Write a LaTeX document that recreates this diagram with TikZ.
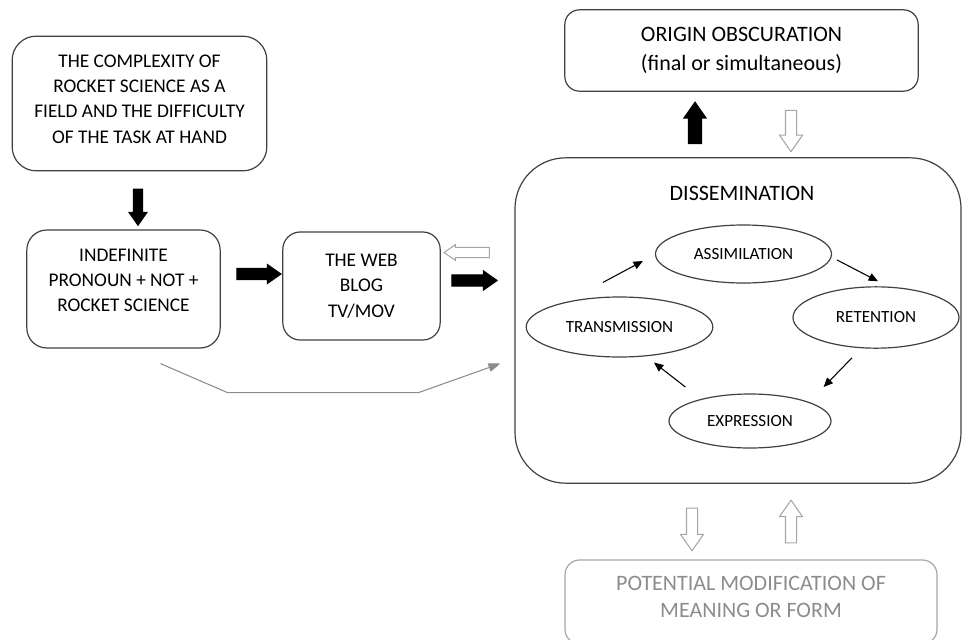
\documentclass[tikz,border=0pt]{standalone}
\usepackage{fontspec}
\setmainfont{Carlito}
\usepackage{tikz}
\usetikzlibrary{arrows.meta,shapes.geometric,shapes.arrows,positioning}

\definecolor{edgegrey}{HTML}{404040}
\definecolor{softgrey}{HTML}{A6A6A6}
\definecolor{labelgrey}{HTML}{8C8C8C}

\begin{document}
\begin{tikzpicture}[x=0.75pt,y=-0.75pt,line width=0.9pt,
    box/.style={draw=edgegrey,rectangle,align=center,font=\fontsize{14.5}{19}\selectfont,inner sep=2pt},
    bigbox/.style={box,font=\fontsize{16.5}{21.5}\selectfont},
    stage/.style={draw=edgegrey,ellipse,inner sep=0pt,font=\fontsize{12.8}{14}\selectfont},
    blk/.style={single arrow,single arrow tip angle=70,line width=0.8pt},
    full/.style={blk,fill=black,draw=black},
    hollow/.style={blk,fill=white,draw=softgrey},
    cyc/.style={-{Triangle[length=7pt,width=6pt]},line width=0.8pt},
    feed/.style={-{Triangle[length=9pt,width=6.5pt]},draw=labelgrey,line width=0.8pt}]
    \useasboundingbox (0,0) rectangle (962,639);

    \node[box,minimum width=191pt,minimum height=101pt,rounded corners=18pt] (cplx) at (139.5,103.5) {THE COMPLEXITY OF\\ROCKET SCIENCE AS A\\FIELD AND THE DIFFICULTY\\OF THE TASK AT HAND\\[-12pt]\mbox{}};
    \node[box,minimum width=145pt,minimum height=88.5pt,rounded corners=15pt] (indef) at (123.5,289) {INDEFINITE\\PRONOUN + NOT +\\ROCKET SCIENCE\\[-6pt]\mbox{}};
    \node[box,minimum width=118pt,minimum height=81pt,rounded corners=13pt] (web) at (361.5,286) {THE WEB\\BLOG\\TV/MOV};
    \node[bigbox,minimum width=265pt,minimum height=61pt,rounded corners=11pt] (origin) at (741.5,50.5) {ORIGIN OBSCURATION\\(final or simultaneous)};
    \node[box,minimum width=334.5pt,minimum height=244pt,rounded corners=38pt] (dissem) at (738,320.5) {};
    \node[font=\fontsize{16.5}{18}\selectfont] (dtitle) at (742,193) {DISSEMINATION};
    \node[bigbox,font=\fontsize{16.5}{20}\selectfont,draw=softgrey,text=labelgrey,minimum width=279pt,minimum height=63pt,rounded corners=11pt] (modif) at (751,602) {POTENTIAL MODIFICATION OF\\MEANING OR FORM\\[-12pt]\mbox{}};

    \node[stage,minimum width=132pt,minimum height=43.5pt] (assim) at (743.5,254) {ASSIMILATION};
    \node[stage,minimum width=124.5pt,minimum height=46pt] (ret) at (876,317.5) {RETENTION};
    \node[stage,minimum width=121.5pt,minimum height=40.5pt] (expr) at (750,421) {EXPRESSION};
    \node[stage,minimum width=140pt,minimum height=45pt] (trans) at (619.5,327) {TRANSMISSION};

    \draw[cyc] ([shift={(-16.5,-14)}]trans.north) -- ([shift={(-12,7)}]assim.west);
    \draw[cyc] ([shift={(5,6)}]assim.east) -- ([shift={(2,-5)}]ret.north);
    \draw[cyc] ([shift={(-24,9)}]ret.south) -- ([shift={(-8,-34)}]expr.east);
    \draw[cyc] ([shift={(17,-34)}]expr.west) -- ([shift={(34.5,5)}]trans.south);

    \draw[feed] ([shift={(37,15)}]indef.south) -- ++(67,29) -- ++(191,0) -- ([shift={(-14,43)}]dissem.west);

    \node[full,rotate=270,minimum height=27pt,inner sep=3pt,single arrow head extend=3.4pt] (a1) at (138,204) {};
    \node[full,minimum height=33pt,inner sep=3.75pt,single arrow head extend=3pt] (a2) at (255,274) {};
    \node[full,minimum height=34pt,inner sep=3.75pt,single arrow head extend=3pt] (a3) at (470.5,280.5) {};
    \node[hollow,rotate=180,minimum height=34pt,inner sep=3.5pt,single arrow head extend=2pt] (a4) at (470.5,252.5) {};
    \node[full,rotate=90,minimum height=31pt,inner sep=4.5pt,single arrow head extend=3.4pt] (a5) at (695,127.5) {};
    \node[hollow,rotate=270,minimum height=31pt,inner sep=3.75pt,single arrow head extend=4.5pt] (a6) at (791,127) {};
    \node[hollow,rotate=270,minimum height=32pt,inner sep=3.75pt,single arrow head extend=4.5pt] (a7) at (692,525.5) {};
    \node[hollow,rotate=90,minimum height=32pt,inner sep=3.75pt,single arrow head extend=4.5pt] (a8) at (791,525.5) {};
\end{tikzpicture}
\end{document}
